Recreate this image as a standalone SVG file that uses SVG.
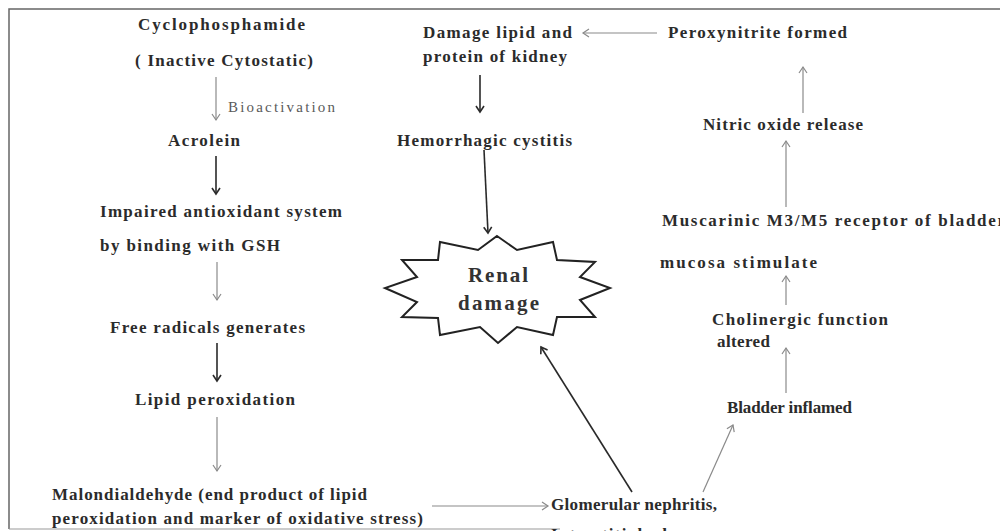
<svg xmlns="http://www.w3.org/2000/svg" width="1000" height="531" viewBox="0 0 1000 531">
<style>
.t{font-family:"Liberation Serif","Times New Roman",serif;font-weight:bold;font-size:17px;fill:#2b2b2b}
.r{font-family:"Liberation Serif","Times New Roman",serif;font-size:15px;fill:#5a5a5a}
.big{font-family:"Liberation Serif","Times New Roman",serif;font-weight:bold;font-size:21px;fill:#333}
.g{stroke:#8a8a8a;stroke-width:1.2;fill:none}
.d{stroke:#2a2a2a;stroke-width:1.6;fill:none}
.border{stroke:#666;stroke-width:1.5;fill:none}
</style>
<defs>
<marker id="ag" markerUnits="userSpaceOnUse" markerWidth="12" markerHeight="12" refX="7" refY="5" orient="auto">
<path d="M1,1 L7,5 L1,9" fill="none" stroke="#8a8a8a" stroke-width="1.2"/>
</marker>
<marker id="ad" markerUnits="userSpaceOnUse" markerWidth="12" markerHeight="12" refX="7" refY="5" orient="auto">
<path d="M1,1 L7,5 L1,9" fill="none" stroke="#2a2a2a" stroke-width="1.6"/>
</marker>
</defs>
<rect width="1000" height="531" fill="#ffffff"/>
<g id="frame">
<path class="border" d="M1000,9 L9,9 L9,529"/>
<path d="M9,529 L560,529" stroke="#999" stroke-width="1" fill="none"/>
</g>
<g id="connectors">
<line class="g" x1="216" y1="77" x2="216" y2="120" marker-end="url(#ag)"/>
<line class="d" x1="216" y1="156" x2="216" y2="194" marker-end="url(#ad)"/>
<line class="g" x1="217" y1="262" x2="217" y2="300" marker-end="url(#ag)"/>
<line class="d" x1="217" y1="343" x2="217" y2="381" marker-end="url(#ad)"/>
<line class="g" x1="217" y1="417" x2="217" y2="471" marker-end="url(#ag)"/>
<line class="g" x1="432" y1="506" x2="548" y2="506" marker-end="url(#ag)"/>
<line class="g" x1="657" y1="33" x2="583" y2="33" marker-end="url(#ag)"/>
<line class="d" x1="480" y1="75" x2="480" y2="112" marker-end="url(#ad)"/>
<line class="d" x1="484" y1="150" x2="488" y2="233" marker-end="url(#ad)"/>
<line class="d" x1="632" y1="492" x2="541" y2="347" marker-end="url(#ad)"/>
<line class="g" x1="703" y1="492" x2="733" y2="425" marker-end="url(#ag)"/>
<line class="g" x1="786" y1="393" x2="786" y2="348" marker-end="url(#ag)"/>
<line class="g" x1="786" y1="305" x2="786" y2="276" marker-end="url(#ag)"/>
<line class="g" x1="786" y1="207" x2="786" y2="141" marker-end="url(#ag)"/>
<line class="g" x1="803" y1="113" x2="803" y2="67" marker-end="url(#ag)"/>
</g>
<g id="cyclophosphamide">
<text class="t" x="138" y="30" textLength="167" lengthAdjust="spacing">Cyclophosphamide</text>
<text class="t" x="135" y="66" textLength="178" lengthAdjust="spacing">( Inactive Cytostatic)</text>
</g>
<g id="bioactivation-label">
<text class="r" x="228" y="112" textLength="107" lengthAdjust="spacing">Bioactivation</text>
</g>
<g id="acrolein">
<text class="t" x="168" y="146" textLength="72" lengthAdjust="spacing">Acrolein</text>
</g>
<g id="impaired">
<text class="t" x="100" y="217" textLength="242" lengthAdjust="spacing">Impaired antioxidant system</text>
<text class="t" x="100" y="251" textLength="180" lengthAdjust="spacing">by binding with GSH</text>
</g>
<g id="free-radicals">
<text class="t" x="110" y="333" textLength="195" lengthAdjust="spacing">Free radicals generates</text>
</g>
<g id="lipid-peroxidation">
<text class="t" x="135" y="405" textLength="160" lengthAdjust="spacing">Lipid peroxidation</text>
</g>
<g id="malondialdehyde">
<text class="t" x="52" y="500" textLength="315" lengthAdjust="spacing">Malondialdehyde (end product of lipid</text>
<text class="t" x="52" y="524" textLength="371" lengthAdjust="spacing">peroxidation and marker of oxidative stress)</text>
</g>
<g id="damage-lipid">
<text class="t" x="423" y="38" textLength="149" lengthAdjust="spacing">Damage lipid and</text>
<text class="t" x="423" y="62" textLength="144" lengthAdjust="spacing">protein of kidney</text>
</g>
<g id="hemorrhagic">
<text class="t" x="397" y="146" textLength="175" lengthAdjust="spacing">Hemorrhagic cystitis</text>
</g>
<g id="renal-damage">
<polygon points="497,236 517,250 553,242 557,260 595,262 580,277 610,288 580,300 595,317 557,317 553,335 517,327 498,343 480,327 440,335 438,318 402,317 417,302 385,288 417,277 402,260 438,260 440,242 478,250" fill="#fff" stroke="#222" stroke-width="2" stroke-linejoin="miter"/>
<text class="big" x="468" y="282" textLength="60" lengthAdjust="spacing">Renal</text>
<text class="big" x="458" y="310" textLength="81" lengthAdjust="spacing">damage</text>
</g>
<g id="peroxynitrite">
<text class="t" x="668" y="38" textLength="179" lengthAdjust="spacing">Peroxynitrite formed</text>
</g>
<g id="nitric-oxide">
<text class="t" x="703" y="130" textLength="160" lengthAdjust="spacing">Nitric oxide release</text>
</g>
<g id="muscarinic">
<text class="t" x="662" y="226" textLength="343" lengthAdjust="spacing">Muscarinic M3/M5 receptor of bladder</text>
<text class="t" x="660" y="268" textLength="157" lengthAdjust="spacing">mucosa stimulate</text>
</g>
<g id="cholinergic">
<text class="t" x="712" y="325" textLength="176" lengthAdjust="spacing">Cholinergic function</text>
<text class="t" x="717" y="347" textLength="53" lengthAdjust="spacing">altered</text>
</g>
<g id="bladder-inflamed">
<text class="t" x="727" y="413" textLength="125" lengthAdjust="spacing">Bladder inflamed</text>
</g>
<g id="glomerular">
<text class="t" x="551" y="510" textLength="166" lengthAdjust="spacing">Glomerular nephritis,</text>
<text class="t" x="551" y="540" textLength="150" lengthAdjust="spacing">Interstitial edema</text>
</g>
</svg>
